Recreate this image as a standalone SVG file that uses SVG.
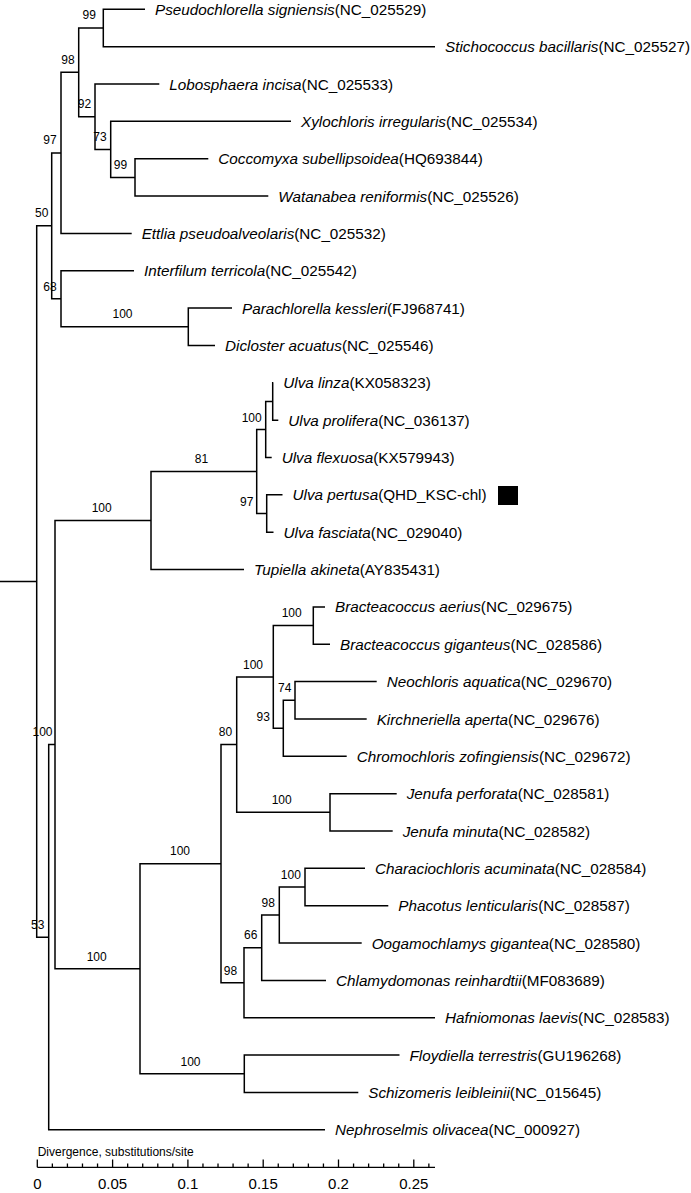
<svg xmlns="http://www.w3.org/2000/svg" width="691" height="1193" viewBox="0 0 691 1193">
<style>
.br{fill:none;stroke:#000;stroke-width:1.5}
.lf{font-family:"Liberation Sans",Arial,sans-serif;font-size:15.25px;fill:#000}
.it{font-style:italic}
.bs{font-family:"Liberation Sans",Arial,sans-serif;font-size:12px;fill:#000;text-anchor:middle}
.sc{font-family:"Liberation Sans",Arial,sans-serif;font-size:15px;fill:#000;text-anchor:middle}
.tk{fill:none;stroke:#000;stroke-width:1.3}
</style>
<rect width="691" height="1193" fill="#fff"/>
<g id="connectors">
<path class="br" d="M0,581.5 H36.7"/>
<path class="br" d="M51.7,225.8 H36.7 V937.2 H48.7"/>
<path class="br" d="M145,9.3 H103.3 V46.65 H435"/>
<path class="br" d="M208.3,158.7 H135 V196.05 H268.3"/>
<path class="br" d="M291,121.35 H110.7 V177.4 H135"/>
<path class="br" d="M159.3,84 H95 V149.4 H110.7"/>
<path class="br" d="M103.3,28 H78.7 V116.7 H95"/>
<path class="br" d="M78.7,72.35 H61 V233.4 H131.7"/>
<path class="br" d="M232,308.1 H188.3 V345.45 H215"/>
<path class="br" d="M134,270.75 H61 V326.8 H188.3"/>
<path class="br" d="M61,152.9 H51.7 V298.8 H61"/>
<path class="br" d="M273.3,382.8 H272.7 V420.15 H278.3"/>
<path class="br" d="M272.7,401.5 H265.7 V457.5 H271.7"/>
<path class="br" d="M282.5,494.85 H266.7 V532.2 H273.5"/>
<path class="br" d="M265.7,429.5 H256.7 V513.5 H266.7"/>
<path class="br" d="M256.7,471.5 H151 V569.55 H244"/>
<path class="br" d="M325,606.9 H313.3 V644.25 H330"/>
<path class="br" d="M376.7,681.6 H295 V718.95 H366.7"/>
<path class="br" d="M295,700.3 H283.3 V756.3 H346.7"/>
<path class="br" d="M313.3,625.6 H273.3 V728.3 H283.3"/>
<path class="br" d="M396.7,793.65 H330 V831 H392.7"/>
<path class="br" d="M273.3,676.95 H236.7 V812.3 H330"/>
<path class="br" d="M365,868.35 H305 V905.7 H388.3"/>
<path class="br" d="M305,887 H279.3 V943.05 H361.7"/>
<path class="br" d="M279.3,915 H261.7 V980.4 H326"/>
<path class="br" d="M261.7,947.7 H244 V1017.75 H435"/>
<path class="br" d="M236.7,744.6 H221 V982.7 H244"/>
<path class="br" d="M399.5,1055.1 H244.3 V1092.45 H358.3"/>
<path class="br" d="M221,863.7 H140 V1073.8 H244.3"/>
<path class="br" d="M151,520.5 H55 V968.7 H140"/>
<path class="br" d="M55,744.6 H48.7 V1129.8 H325"/>
</g>
<g id="support-values">
<text class="bs" x="89.2" y="19.3">99</text>
<text class="bs" x="68" y="64.3">98</text>
<text class="bs" x="84.5" y="107.5">92</text>
<text class="bs" x="100" y="141">73</text>
<text class="bs" x="120.5" y="168.5">99</text>
<text class="bs" x="50" y="144.3">97</text>
<text class="bs" x="41.7" y="217.3">50</text>
<text class="bs" x="50" y="290.5">68</text>
<text class="bs" x="122.5" y="318.3">100</text>
<text class="bs" x="251.7" y="422.3">100</text>
<text class="bs" x="201.5" y="462.8">81</text>
<text class="bs" x="246.7" y="506">97</text>
<text class="bs" x="101.7" y="512">100</text>
<text class="bs" x="42.5" y="736.3">100</text>
<text class="bs" x="37.7" y="929">53</text>
<text class="bs" x="96.7" y="960.5">100</text>
<text class="bs" x="180" y="855.3">100</text>
<text class="bs" x="225.5" y="736.3">80</text>
<text class="bs" x="253" y="668.5">100</text>
<text class="bs" x="291.7" y="617.2">100</text>
<text class="bs" x="263.3" y="720.5">93</text>
<text class="bs" x="284.8" y="692">74</text>
<text class="bs" x="281.7" y="804">100</text>
<text class="bs" x="230.5" y="974.5">98</text>
<text class="bs" x="250.7" y="939.3">66</text>
<text class="bs" x="268.3" y="906.7">98</text>
<text class="bs" x="290.8" y="878.7">100</text>
<text class="bs" x="190.5" y="1065.5">100</text>
</g>
<g id="leaf-01"><text class="lf" x="155" y="14.8"><tspan class="it">Pseudochlorella signiensis</tspan>(NC_025529)</text></g>
<g id="leaf-02"><text class="lf" x="445" y="52.2"><tspan class="it">Stichococcus bacillaris</tspan>(NC_025527)</text></g>
<g id="leaf-03"><text class="lf" x="169.3" y="89.5"><tspan class="it">Lobosphaera incisa</tspan>(NC_025533)</text></g>
<g id="leaf-04"><text class="lf" x="301" y="126.9"><tspan class="it">Xylochloris irregularis</tspan>(NC_025534)</text></g>
<g id="leaf-05"><text class="lf" x="218.3" y="164.2"><tspan class="it">Coccomyxa subellipsoidea</tspan>(HQ693844)</text></g>
<g id="leaf-06"><text class="lf" x="278.3" y="201.6"><tspan class="it">Watanabea reniformis</tspan>(NC_025526)</text></g>
<g id="leaf-07"><text class="lf" x="141.7" y="238.9"><tspan class="it">Ettlia pseudoalveolaris</tspan>(NC_025532)</text></g>
<g id="leaf-08"><text class="lf" x="144" y="276.3"><tspan class="it">Interfilum terricola</tspan>(NC_025542)</text></g>
<g id="leaf-09"><text class="lf" x="242" y="313.6"><tspan class="it">Parachlorella kessleri</tspan>(FJ968741)</text></g>
<g id="leaf-10"><text class="lf" x="225" y="351"><tspan class="it">Dicloster acuatus</tspan>(NC_025546)</text></g>
<g id="leaf-11"><text class="lf" x="283.3" y="388.3"><tspan class="it">Ulva linza</tspan>(KX058323)</text></g>
<g id="leaf-12"><text class="lf" x="288.3" y="425.7"><tspan class="it">Ulva prolifera</tspan>(NC_036137)</text></g>
<g id="leaf-13"><text class="lf" x="281.7" y="463"><tspan class="it">Ulva flexuosa</tspan>(KX579943)</text></g>
<g id="leaf-14"><text class="lf" x="292.5" y="500.4"><tspan class="it">Ulva pertusa</tspan>(QHD_KSC-chl)</text><rect x="498" y="486" width="20" height="19" fill="#000"/></g>
<g id="leaf-15"><text class="lf" x="283.5" y="537.7"><tspan class="it">Ulva fasciata</tspan>(NC_029040)</text></g>
<g id="leaf-16"><text class="lf" x="254" y="575.1"><tspan class="it">Tupiella akineta</tspan>(AY835431)</text></g>
<g id="leaf-17"><text class="lf" x="335" y="612.4"><tspan class="it">Bracteacoccus aerius</tspan>(NC_029675)</text></g>
<g id="leaf-18"><text class="lf" x="340" y="649.8"><tspan class="it">Bracteacoccus giganteus</tspan>(NC_028586)</text></g>
<g id="leaf-19"><text class="lf" x="386.7" y="687.1"><tspan class="it">Neochloris aquatica</tspan>(NC_029670)</text></g>
<g id="leaf-20"><text class="lf" x="376.7" y="724.5"><tspan class="it">Kirchneriella aperta</tspan>(NC_029676)</text></g>
<g id="leaf-21"><text class="lf" x="356.7" y="761.8"><tspan class="it">Chromochloris zofingiensis</tspan>(NC_029672)</text></g>
<g id="leaf-22"><text class="lf" x="406.7" y="799.2"><tspan class="it">Jenufa perforata</tspan>(NC_028581)</text></g>
<g id="leaf-23"><text class="lf" x="402.7" y="836.5"><tspan class="it">Jenufa minuta</tspan>(NC_028582)</text></g>
<g id="leaf-24"><text class="lf" x="375" y="873.9"><tspan class="it">Characiochloris acuminata</tspan>(NC_028584)</text></g>
<g id="leaf-25"><text class="lf" x="398.3" y="911.2"><tspan class="it">Phacotus lenticularis</tspan>(NC_028587)</text></g>
<g id="leaf-26"><text class="lf" x="371.7" y="948.6"><tspan class="it">Oogamochlamys gigantea</tspan>(NC_028580)</text></g>
<g id="leaf-27"><text class="lf" x="336" y="985.9"><tspan class="it">Chlamydomonas reinhardtii</tspan>(MF083689)</text></g>
<g id="leaf-28"><text class="lf" x="445" y="1023.3"><tspan class="it">Hafniomonas laevis</tspan>(NC_028583)</text></g>
<g id="leaf-29"><text class="lf" x="409.5" y="1060.6"><tspan class="it">Floydiella terrestris</tspan>(GU196268)</text></g>
<g id="leaf-30"><text class="lf" x="368.3" y="1098"><tspan class="it">Schizomeris leibleinii</tspan>(NC_015645)</text></g>
<g id="leaf-31"><text class="lf" x="335" y="1135.3"><tspan class="it">Nephroselmis olivacea</tspan>(NC_000927)</text></g>
<g id="scale-bar">
<text x="37.7" y="1156" font-family="Liberation Sans, Arial, sans-serif" font-size="12" fill="#000">Divergence, substitutions/site</text>
<path class="tk" d="M37.3,1167.3 H435 M37.3,1167.3 V1159.5 M112.6,1167.3 V1159.5 M187.9,1167.3 V1159.5 M263.2,1167.3 V1159.5 M338.5,1167.3 V1159.5 M413.8,1167.3 V1159.5 M52.36,1167.3 V1163.5 M67.42,1167.3 V1163.5 M82.48,1167.3 V1163.5 M97.54,1167.3 V1163.5 M127.66,1167.3 V1163.5 M142.72,1167.3 V1163.5 M157.78,1167.3 V1163.5 M172.84,1167.3 V1163.5 M202.96,1167.3 V1163.5 M218.02,1167.3 V1163.5 M233.08,1167.3 V1163.5 M248.14,1167.3 V1163.5 M278.26,1167.3 V1163.5 M293.32,1167.3 V1163.5 M308.38,1167.3 V1163.5 M323.44,1167.3 V1163.5 M353.56,1167.3 V1163.5 M368.62,1167.3 V1163.5 M383.68,1167.3 V1163.5 M398.74,1167.3 V1163.5 M428.86,1167.3 V1163.5"/>
<text class="sc" x="37.3" y="1189.3">0</text>
<text class="sc" x="112.6" y="1189.3">0.05</text>
<text class="sc" x="187.9" y="1189.3">0.1</text>
<text class="sc" x="263.2" y="1189.3">0.15</text>
<text class="sc" x="338.5" y="1189.3">0.2</text>
<text class="sc" x="413.8" y="1189.3">0.25</text>
</g>
</svg>
